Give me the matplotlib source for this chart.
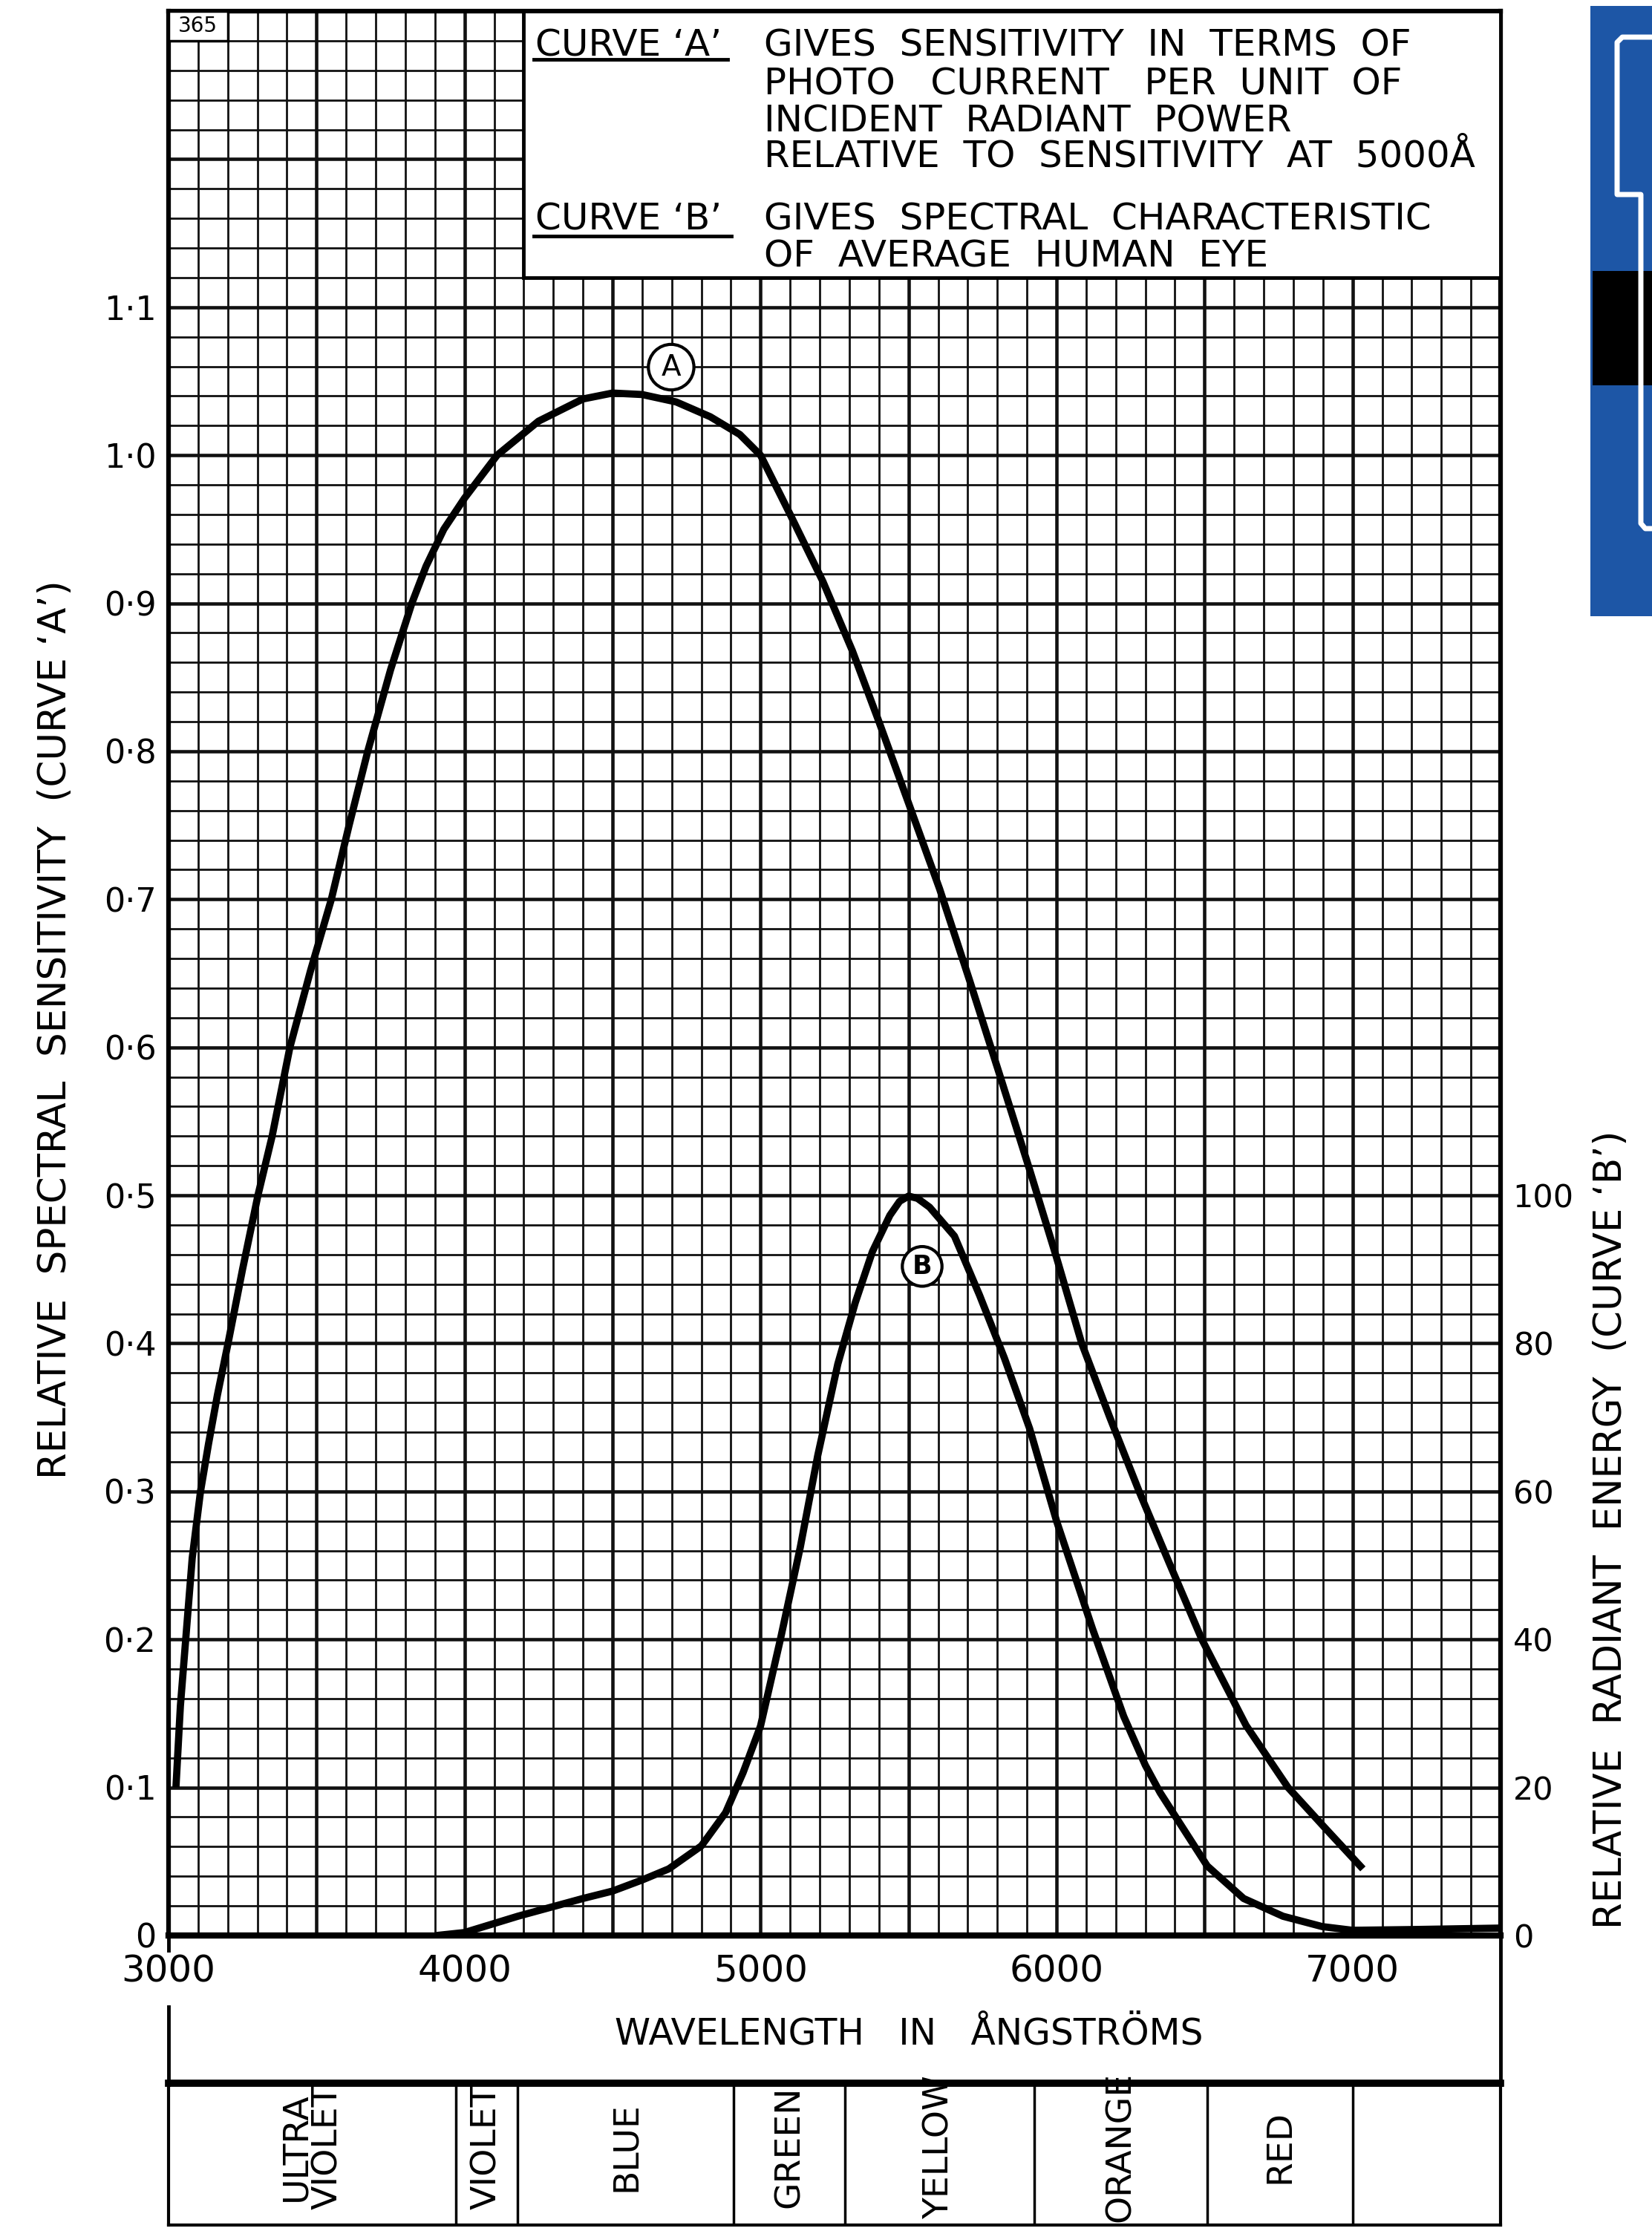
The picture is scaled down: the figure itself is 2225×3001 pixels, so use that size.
import matplotlib
matplotlib.use('Agg')
import matplotlib.pyplot as plt
import numpy as np
from matplotlib.lines import Line2D
from matplotlib.patches import Rectangle

# 曲线A: 相对光谱灵敏度 (左轴)
wavelength_a = [3025, 3040, 3058, 3080, 3108, 3135, 3165, 3201, 3250, 3302,
                3350, 3410, 3480, 3550, 3610, 3673, 3750, 3822, 3870, 3930,
                4000, 4110, 4250, 4400, 4500, 4600, 4715, 4830, 4930, 5000,
                5100, 5210, 5310, 5400, 5500, 5605, 5705, 5807, 5908, 6000,
                6085, 6180, 6279, 6380, 6491, 6640, 6782, 6910, 7035]
sensitivity_a = [0.100, 0.155, 0.200, 0.255, 0.300, 0.332, 0.365, 0.400, 0.450, 0.500,
                 0.540, 0.600, 0.652, 0.700, 0.750, 0.800, 0.855, 0.900, 0.925, 0.950,
                 0.971, 1.000, 1.023, 1.038, 1.042, 1.041, 1.036, 1.026, 1.014, 1.000,
                 0.960, 0.915, 0.868, 0.820, 0.765, 0.707, 0.646, 0.582, 0.518, 0.458,
                 0.400, 0.350, 0.300, 0.252, 0.200, 0.142, 0.100, 0.072, 0.045]

# 曲线B: 人眼光谱特性 (右轴 0-100)
wavelength_b = [3906, 4000, 4180, 4400, 4500, 4600, 4690, 4800, 4882, 4941,
                5000, 5067, 5134, 5193, 5261, 5320, 5378, 5437, 5470, 5500,
                5530, 5571, 5655, 5740, 5824, 5909, 6000, 6121, 6227, 6300,
                6350, 6509, 6632, 6765, 6898, 7000, 7200, 7500]
energy_b = [0, 0.4, 2.6, 5.0, 6.0, 7.5, 9.0, 12.1, 16.6, 22.0,
            28.3, 40.0, 52.4, 64.8, 77.2, 85.5, 92.4, 97.3, 99.2, 99.9,
            99.6, 98.4, 94.5, 86.5, 78.0, 68.5, 56.0, 41.5, 29.6, 23.0,
            19.3, 9.4, 5.0, 2.6, 1.2, 0.7, 0.8, 1.0]

x_ticks = [3000, 4000, 5000, 6000, 7000]
y_ticks = [0, 0.1, 0.2, 0.3, 0.4, 0.5, 0.6, 0.7, 0.8, 0.9, 1.0, 1.1]
y_tick_labels = ['0', '0·1', '0·2', '0·3', '0·4', '0·5', '0·6', '0·7', '0·8', '0·9', '1·0', '1·1']
b_ticks = [0, 20, 40, 60, 80, 100]

# 颜色带
band_edges = [3000, 3970, 4180, 4910, 5285, 5925, 6510, 7000, 7500]
band_names = ['ULTRA\nVIOLET', 'VIOLET', 'BLUE', 'GREEN', 'YELLOW', 'ORANGE', 'RED', '']

legend_a = ['GIVES  SENSITIVITY  IN  TERMS  OF',
            'PHOTO   CURRENT   PER  UNIT  OF',
            'INCIDENT  RADIANT  POWER',
            'RELATIVE  TO  SENSITIVITY  AT  5000Å']
legend_b = ['GIVES  SPECTRAL  CHARACTERISTIC',
            'OF  AVERAGE  HUMAN  EYE']

W, H = 2225, 3001
plt.rcParams['font.family'] = ['DejaVu Sans']


def fx(px):
    return px / W


def fy(py):
    return 1 - py / H


def cap_text(px, py, s, size, **kw):
    # py 是大写字母中线位置
    base = py + 0.365 * size * 100 / 72
    fig.text(fx(px), fy(base), s, fontsize=size, va='baseline', **kw)


fig = plt.figure(figsize=(W / 100, H / 100), dpi=100)

ax = fig.add_axes([fx(227), fy(2607), fx(2021) - fx(227), fy(15) - fy(2607)])
ax.set_xlim(3000, 7500)
ax.set_ylim(0, 1.3)

# 坐标纸网格
ax.vlines(np.arange(3100, 7500, 100), 0, 1.3, color='#111111', lw=2.0, zorder=1)
ax.vlines(np.arange(3500, 7500, 500), 0, 1.3, color='#111111', lw=3.3, zorder=1)
ax.hlines(np.arange(0.02, 1.3, 0.02), 3000, 7500, color='#111111', lw=2.0, zorder=1)
ax.hlines(np.arange(0.1, 1.3, 0.1), 3000, 7500, color='#111111', lw=3.3, zorder=1)

ax.plot(wavelength_a, sensitivity_a, color='black', lw=7, zorder=3,
        solid_joinstyle='round', solid_capstyle='butt')

ax.set_xticks(x_ticks)
ax.set_xticklabels([str(v) for v in x_ticks], fontsize=36)
ax.set_yticks(y_ticks)
ax.set_yticklabels(y_tick_labels, fontsize=32)
ax.tick_params(axis='x', length=0, pad=18)
ax.tick_params(axis='y', length=0, pad=12)
for side in ['left', 'right', 'top']:
    ax.spines[side].set_linewidth(4.5)
ax.spines['bottom'].set_linewidth(6)

# 说明框
ax.add_patch(Rectangle((4200, 1.12), 3300, 0.18, facecolor='white', edgecolor='black',
                       lw=3.5, zorder=4, clip_on=False))
ax.add_patch(Rectangle((3000, 1.28), 200, 0.02, facecolor='white', edgecolor='black',
                       lw=2.5, zorder=4, clip_on=False))
ax.text(3100, 1.29, '365', fontsize=20, ha='center', va='center', zorder=5)

ax.text(4698, 1.0595, 'A', fontsize=28, ha='center', va='center', zorder=5,
        bbox=dict(boxstyle='circle,pad=0.3', fc='white', ec='black', lw=3))
ax.text(5546, 0.452, 'B', fontsize=25, ha='center', va='center', zorder=5,
        fontweight='bold',
        bbox=dict(boxstyle='circle,pad=0.28', fc='white', ec='black', lw=3))

# 右轴: 曲线B
ax2 = ax.twinx()
ax2.set_ylim(0, 260)
ax2.plot(wavelength_b, energy_b, color='black', lw=7, zorder=3,
         solid_joinstyle='round', solid_capstyle='butt')
ax2.set_yticks(b_ticks)
ax2.set_yticklabels([str(v) for v in b_ticks], fontsize=31)
ax2.tick_params(axis='y', length=0, pad=12)
for side in ax2.spines:
    ax2.spines[side].set_visible(False)

# 图例文字
cap_text(721, 57, 'CURVE ‘A’', 36)
cap_text(721, 291, 'CURVE ‘B’', 36)
fig.add_artist(Line2D([fx(719), fx(980)], [fy(80), fy(80)], color='black', lw=3.5))
fig.add_artist(Line2D([fx(719), fx(985)], [fy(318), fy(318)], color='black', lw=3.5))
for i, line in enumerate(legend_a):
    cap_text(1029, [57, 109, 159, 206][i], line, 36)
for i, line in enumerate(legend_b):
    cap_text(1029, [291, 341][i], line, 36)

# 轴标题
fig.text(fx(75), fy(1387), 'RELATIVE  SPECTRAL  SENSITIVITY  (CURVE ‘A’)', rotation=90,
         fontsize=37, ha='center', va='center')
fig.text(fx(2170), fy(2060), 'RELATIVE  RADIANT  ENERGY  (CURVE ‘B’)', rotation=90,
         fontsize=37, ha='center', va='center')
cap_text(1224, 2736, 'WAVELENGTH   IN   ÅNGSTRÖMS', 35, ha='center')

# 下方连接线
fig.add_artist(Line2D([fx(227), fx(227)], [fy(2607), fy(2627)], color='black', lw=3.5))
fig.add_artist(Line2D([fx(227), fx(227)], [fy(2703), fy(2808)], color='black', lw=3.5))
fig.add_artist(Line2D([fx(2021), fx(2021)], [fy(2607), fy(2808)], color='black', lw=3.5))

# 颜色带表格
band = fig.add_axes([fx(227), fy(2997), fx(2021) - fx(227), fy(2806) - fy(2997)])
band.set_xlim(3000, 7500)
band.set_ylim(0, 1)
band.set_xticks([])
band.set_yticks([])
band.spines['top'].set_linewidth(7)
for side in ['left', 'right', 'bottom']:
    band.spines[side].set_linewidth(3)
band.vlines(band_edges[1:-1], 0, 1, color='black', lw=2.5)
for i, name in enumerate(band_names):
    mid = (band_edges[i] + band_edges[i + 1]) / 2
    band.text(mid, 0.55, name, rotation=90, fontsize=34, ha='center', va='center',
              linespacing=0.95, clip_on=False)

# 右上角蓝色图块
fig.add_artist(Rectangle((fx(2142), fy(830)), fx(2225) - fx(2142), fy(8) - fy(830),
                         facecolor='#1d56a6', edgecolor='none'))
outline_x = [2225, 2185, 2178, 2178, 2210, 2210, 2216, 2225]
outline_y = [50, 50, 57, 262, 262, 705, 712, 712]
fig.add_artist(Line2D([fx(v) for v in outline_x], [fy(v) for v in outline_y],
                      color='white', lw=5))
fig.add_artist(Rectangle((fx(2145), fy(519)), fx(2225) - fx(2145), fy(365) - fy(519),
                         facecolor='black', edgecolor='none'))

fig.savefig('out.png', dpi=100)
